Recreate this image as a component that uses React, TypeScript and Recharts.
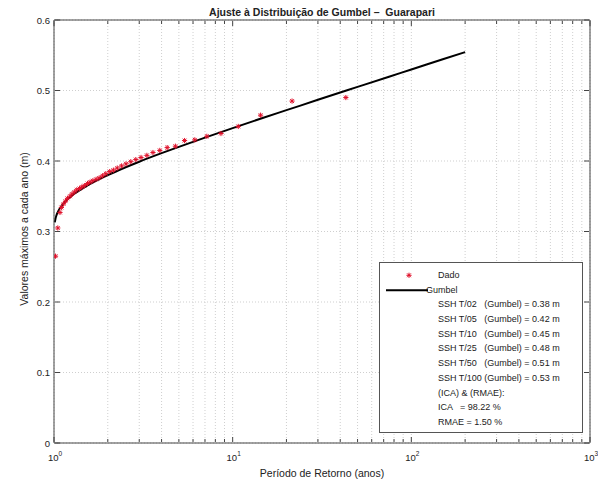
import React from 'react';
import { ComposedChart, Line, Scatter, XAxis, YAxis, CartesianGrid } from 'recharts';

// Observed annual maxima (Weibull plotting positions)
const returnPeriods = [43, 21.5, 14.33, 10.75, 8.6, 7.17, 6.14, 5.38, 4.78, 4.3, 3.91, 3.58, 3.31, 3.07, 2.87, 2.69, 2.53, 2.39, 2.26, 2.15, 2.05, 1.95, 1.87, 1.79, 1.72, 1.65, 1.59, 1.54, 1.48, 1.43, 1.39, 1.34, 1.3, 1.26, 1.23, 1.19, 1.16, 1.13, 1.1, 1.08, 1.05, 1.02];
const observedMax = [0.49, 0.485, 0.465, 0.449, 0.439, 0.435, 0.43, 0.429, 0.421, 0.419, 0.415, 0.412, 0.408, 0.405, 0.402, 0.399, 0.396, 0.393, 0.39, 0.387, 0.385, 0.382, 0.379, 0.376, 0.374, 0.372, 0.37, 0.368, 0.365, 0.363, 0.361, 0.359, 0.356, 0.353, 0.35, 0.347, 0.343, 0.339, 0.334, 0.327, 0.305, 0.265];

// Fitted Gumbel curve
const gumbelT = [1.01, 1.02, 1.03, 1.05, 1.1, 1.15, 1.2, 1.3, 1.4, 1.5, 1.75, 2, 2.5, 3, 4, 5, 7, 10, 15, 20, 30, 50, 75, 100, 150, 200];
const gumbelValues = [0.3129, 0.3185, 0.3223, 0.3276, 0.336, 0.3418, 0.3464, 0.3535, 0.359, 0.3637, 0.3729, 0.38, 0.3908, 0.399, 0.4111, 0.4201, 0.4332, 0.4467, 0.4617, 0.4721, 0.4868, 0.5051, 0.5196, 0.5298, 0.5443, 0.5545];

const xTicks = [1, 2, 3, 4, 5, 6, 7, 8, 9, 10, 20, 30, 40, 50, 60, 70, 80, 90, 100, 200, 300, 400, 500, 600, 700, 800, 900, 1000];
const decadeExp: Record<number, string> = { 1: '0', 10: '1', 100: '2', 1000: '3' };
const yTicks = [0, 0.1, 0.2, 0.3, 0.4, 0.5, 0.6];
const yTickLabels = ['0', '0.1', '0.2', '0.3', '0.4', '0.5', '0.6'];

const legendStats = [
  'SSH T/02   (Gumbel) = 0.38 m',
  'SSH T/05   (Gumbel) = 0.42 m',
  'SSH T/10   (Gumbel) = 0.45 m',
  'SSH T/25   (Gumbel) = 0.48 m',
  'SSH T/50   (Gumbel) = 0.51 m',
  'SSH T/100 (Gumbel) = 0.53 m',
  '(ICA) & (RMAE):',
  'ICA   = 98.22 %',
  'RMAE = 1.50 %',
];

const obsData = returnPeriods.map((T, i) => ({ T, v: observedMax[i] }));
const fitData = gumbelT.map((T, i) => ({ T, v: gumbelValues[i] }));

const FONT = '"Liberation Sans", Arial, Helvetica, sans-serif';
const AX = '#444';
const TXT = '#222';

const BottomTick = (props: any) => {
  const { x, y, payload } = props;
  const exp = decadeExp[payload.value];
  const major = exp !== undefined;
  return (
    <g>
      <line x1={x} x2={x} y1={y - 1} y2={y - 1 - (major ? 5 : 3)} stroke={AX} strokeWidth={1} />
      {major && (
        <text x={x + 1} y={y + 18} textAnchor="middle" fontSize={9.5} fill={TXT} fontFamily={FONT}>
          10<tspan dy={-5} fontSize={6.5}>{exp}</tspan>
        </text>
      )}
    </g>
  );
};

const TopTick = (props: any) => {
  const { x, y, payload } = props;
  const major = decadeExp[payload.value] !== undefined;
  return <line x1={x} x2={x} y1={y + 1} y2={y + 1 + (major ? 5 : 3)} stroke={AX} strokeWidth={1} />;
};

const LeftTick = (props: any) => {
  const { x, y, index } = props;
  return (
    <g>
      <line x1={x + 1} x2={x + 6} y1={y} y2={y} stroke={AX} strokeWidth={1} />
      <text x={x - 4} y={y + 3.5} textAnchor="end" fontSize={9.5} fill={TXT} fontFamily={FONT}>
        {yTickLabels[index]}
      </text>
    </g>
  );
};

const RightTick = (props: any) => {
  const { x, y } = props;
  return <line x1={x - 1} x2={x - 6} y1={y} y2={y} stroke={AX} strokeWidth={1} />;
};

const Asterisk = (props: any) => {
  const { cx, cy } = props;
  if (cx == null || cy == null) return null;
  const r = 2.6;
  const d = 1.9;
  return (
    <g stroke="#e0102a" strokeWidth={1}>
      <line x1={cx - r} x2={cx + r} y1={cy} y2={cy} />
      <line x1={cx} x2={cx} y1={cy - r} y2={cy + r} />
      <line x1={cx - d} x2={cx + d} y1={cy - d} y2={cy + d} />
      <line x1={cx - d} x2={cx + d} y1={cy + d} y2={cy - d} />
    </g>
  );
};

export default function App() {
  const rowH = 14.7;
  return (
    <div style={{ position: 'absolute', left: 0, top: 0, width: 598, height: 490, background: '#fff', fontFamily: FONT }}>
      <ComposedChart
        width={598}
        height={490}
        data={fitData}
        margin={{ top: 19, right: 7, bottom: 46, left: 53 }}
      >
        <CartesianGrid stroke="#cfcfcf" strokeDasharray="1 2" horizontalValues={yTicks} verticalValues={xTicks} />
        <XAxis
          dataKey="T"
          type="number"
          scale="log"
          domain={[1, 1000]}
          allowDataOverflow
          ticks={xTicks}
          interval={0}
          tick={BottomTick}
          tickLine={false}
          tickSize={0}
          tickMargin={0}
          height={1}
          axisLine={{ stroke: AX }}
        />
        <XAxis
          xAxisId="top"
          orientation="top"
          dataKey="T"
          type="number"
          scale="log"
          domain={[1, 1000]}
          allowDataOverflow
          ticks={xTicks}
          interval={0}
          tick={TopTick}
          tickLine={false}
          tickSize={0}
          tickMargin={0}
          height={1}
          axisLine={{ stroke: AX }}
        />
        <YAxis
          dataKey="v"
          type="number"
          domain={[0, 0.6]}
          allowDataOverflow
          ticks={yTicks}
          interval={0}
          tick={LeftTick}
          tickLine={false}
          tickSize={0}
          tickMargin={0}
          width={1}
          axisLine={{ stroke: AX }}
        />
        <YAxis
          yAxisId="right"
          orientation="right"
          type="number"
          domain={[0, 0.6]}
          allowDataOverflow
          ticks={yTicks}
          interval={0}
          tick={RightTick}
          tickLine={false}
          tickSize={0}
          tickMargin={0}
          width={1}
          axisLine={{ stroke: AX }}
        />
        <Scatter data={obsData} dataKey="v" shape={Asterisk} isAnimationActive={false} />
        <Line dataKey="v" type="monotone" stroke="#000" strokeWidth={2} dot={false} isAnimationActive={false} />
      </ComposedChart>

      <div style={{ position: 'absolute', left: 322, top: 12, transform: 'translate(-50%, -50%)', whiteSpace: 'pre', fontSize: 10.5, fontWeight: 'bold', color: TXT }}>
        {'Ajuste à Distribuição de Gumbel –  Guarapari'}
      </div>
      <div style={{ position: 'absolute', left: 322, top: 473, transform: 'translate(-50%, -50%)', whiteSpace: 'nowrap', fontSize: 10.5, color: TXT }}>
        Período de Retorno (anos)
      </div>
      <div style={{ position: 'absolute', left: 24, top: 229, transform: 'translate(-50%, -50%) rotate(-90deg)', whiteSpace: 'nowrap', fontSize: 10.5, color: TXT }}>
        Valores máximos a cada ano (m)
      </div>

      <div style={{ position: 'absolute', left: 379, top: 262, width: 204, height: 171, border: '1px solid #555', background: '#fff', boxSizing: 'border-box', fontSize: 9, color: TXT }}>
        <div style={{ position: 'absolute', left: 0, top: 5, width: '100%' }}>
          <div style={{ height: rowH, lineHeight: rowH + 'px', position: 'relative', paddingLeft: 58 }}>
            <svg width={50} height={rowH} style={{ position: 'absolute', left: 4, top: 0 }}>
              <g stroke="#e0102a" strokeWidth={1}>
                <line x1={22.4} x2={27.6} y1={7.3} y2={7.3} />
                <line x1={25} x2={25} y1={4.7} y2={9.9} />
                <line x1={23.1} x2={26.9} y1={5.4} y2={9.2} />
                <line x1={23.1} x2={26.9} y1={9.2} y2={5.4} />
              </g>
            </svg>
            Dado
          </div>
          <div style={{ height: rowH, lineHeight: rowH + 'px', position: 'relative', paddingLeft: 46 }}>
            <svg width={50} height={rowH} style={{ position: 'absolute', left: 4, top: 0 }}>
              <line x1={2} x2={44} y1={7.3} y2={7.3} stroke="#000" strokeWidth={2} />
            </svg>
            Gumbel
          </div>
          {legendStats.map((s) => (
            <div key={s} style={{ height: rowH, lineHeight: rowH + 'px', paddingLeft: 58, whiteSpace: 'pre' }}>
              {s}
            </div>
          ))}
        </div>
      </div>
    </div>
  );
}
